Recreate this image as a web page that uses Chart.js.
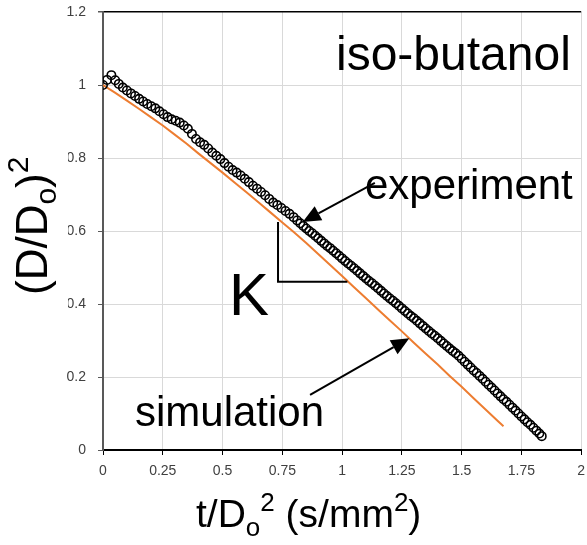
<!DOCTYPE html>
<html>
<head>
<meta charset="utf-8">
<script src="https://cdn.jsdelivr.net/npm/chart.js@4/dist/chart.umd.min.js"></script>
<style>
  html, body { margin: 0; padding: 0; background: #fff; }
  #wrap { width: 587px; height: 545px; }
</style>
</head>
<body>
<div id="wrap"><canvas id="dropChart" width="587" height="545"></canvas></div>
<script>
// experiment: t/Do^2 (s/mm^2) and (D/Do)^2
const expT = [
    0, 0.017, 0.035, 0.051, 0.066, 0.083, 0.100, 0.117, 0.134, 0.151,
    0.168, 0.185, 0.202, 0.219, 0.236, 0.253, 0.270, 0.287, 0.304, 0.321,
    0.338, 0.355, 0.372, 0.389, 0.406, 0.423, 0.440, 0.457, 0.474, 0.491,
    0.508, 0.525, 0.542, 0.559, 0.576, 0.593, 0.610, 0.627, 0.644, 0.661,
    0.678, 0.695, 0.712, 0.729, 0.746, 0.763, 0.780, 0.797, 0.812, 0.825,
    0.8375, 0.85, 0.8625, 0.875, 0.8875, 0.90, 0.9125, 0.925, 0.9375, 0.95,
    0.9625, 0.975, 0.9875, 1.00, 1.0125, 1.025, 1.0375, 1.05, 1.0625, 1.075,
    1.0875, 1.10, 1.1125, 1.125, 1.1375, 1.15, 1.1625, 1.175, 1.1875, 1.20,
    1.2125, 1.225, 1.2375, 1.25, 1.2625, 1.275, 1.2875, 1.30, 1.3125, 1.325,
    1.3375, 1.35, 1.3625, 1.375, 1.3875, 1.40, 1.4125, 1.425, 1.4375, 1.45,
    1.4625, 1.475, 1.4875, 1.50, 1.5125, 1.525, 1.5375, 1.55, 1.5625, 1.575,
    1.5875, 1.60, 1.6125, 1.625, 1.6375, 1.65, 1.6625, 1.675, 1.6875, 1.70,
    1.7125, 1.725, 1.7375, 1.75, 1.7625, 1.775, 1.7875, 1.80, 1.8125, 1.825,
    1.835
];
const expD2 = [
    1.000, 1.014, 1.027, 1.013, 1.003, 0.993, 0.985, 0.977, 0.970, 0.962,
    0.955, 0.948, 0.942, 0.936, 0.928, 0.920, 0.912, 0.906, 0.902, 0.897,
    0.889, 0.880, 0.866, 0.852, 0.843, 0.836, 0.826, 0.815, 0.806, 0.797,
    0.786, 0.776, 0.767, 0.760, 0.752, 0.743, 0.734, 0.724, 0.716, 0.707,
    0.698, 0.688, 0.678, 0.671, 0.663, 0.655, 0.647, 0.638, 0.629, 0.621,
    0.614, 0.607, 0.600, 0.594, 0.587, 0.580, 0.573, 0.566, 0.559, 0.553,
    0.546, 0.539, 0.532, 0.525, 0.518, 0.511, 0.505, 0.498, 0.491, 0.484,
    0.477, 0.470, 0.463, 0.457, 0.450, 0.443, 0.436, 0.429, 0.422, 0.415,
    0.409, 0.402, 0.395, 0.388, 0.381, 0.374, 0.367, 0.361, 0.354, 0.347,
    0.340, 0.333, 0.326, 0.319, 0.313, 0.306, 0.299, 0.292, 0.285, 0.278,
    0.271, 0.265, 0.258, 0.250, 0.242, 0.234, 0.226, 0.218, 0.211, 0.203,
    0.195, 0.187, 0.179, 0.171, 0.163, 0.155, 0.147, 0.139, 0.132, 0.124,
    0.116, 0.108, 0.100, 0.092, 0.084, 0.076, 0.069, 0.061, 0.053, 0.045,
    0.038
];

// simulation
const simT = [
    0, 0.05, 0.10, 0.15, 0.20, 0.25, 0.30, 0.35, 0.40, 0.45,
    0.50, 0.55, 0.60, 0.65, 0.70, 0.75, 0.80, 0.85, 0.90, 0.95,
    1.00, 1.05, 1.10, 1.15, 1.20, 1.25, 1.30, 1.35, 1.40, 1.45,
    1.50, 1.55, 1.60, 1.65, 1.675
];
const simD2 = [
    1.000, 0.979, 0.957, 0.935, 0.912, 0.889, 0.864, 0.839, 0.812, 0.786,
    0.760, 0.733, 0.706, 0.679, 0.651, 0.623, 0.596, 0.567, 0.537, 0.507,
    0.477, 0.446, 0.416, 0.385, 0.355, 0.325, 0.294, 0.264, 0.234, 0.203,
    0.173, 0.142, 0.111, 0.080, 0.065
];

const xTickLabels = ['0', '0.25', '0.5', '0.75', '1', '1.25', '1.5', '1.75', '2'];
const yTickLabels = ['0', '0.2', '0.4', '0.6', '0.8', '1', '1.2'];

const FONT = '"Liberation Sans", Arial, sans-serif';

// draws a run of text pieces (normal / sub / sup) one after another
function drawRuns(ctx, runs, x, y) {
    let cx = x;
    runs.forEach(r => {
        ctx.font = r.size + 'px ' + FONT;
        ctx.fillText(r.text, cx, y + (r.dy || 0));
        cx += ctx.measureText(r.text).width;
    });
}

function arrow(ctx, x1, y1, x2, y2) {
    const ang = Math.atan2(y2 - y1, x2 - x1);
    const len = 18, half = 8;
    const bx = x2 - len * Math.cos(ang), by = y2 - len * Math.sin(ang);
    ctx.beginPath();
    ctx.moveTo(x1, y1);
    ctx.lineTo(bx, by);
    ctx.stroke();
    ctx.beginPath();
    ctx.moveTo(x2, y2);
    ctx.lineTo(bx + half * Math.sin(ang), by - half * Math.cos(ang));
    ctx.lineTo(bx - half * Math.sin(ang), by + half * Math.cos(ang));
    ctx.closePath();
    ctx.fill();
}

const annotations = {
    id: 'annotations',
    afterDraw(chart) {
        const ctx = chart.ctx;
        const xs = chart.scales.x, ys = chart.scales.y;
        const px = t => xs.getPixelForValue(t);
        const py = v => ys.getPixelForValue(v);
        ctx.save();

        // y title sits on a white box that hides part of the tick labels
        ctx.fillStyle = '#fff';
        ctx.fillRect(0, 140, 68, 172);
        ctx.fillStyle = '#000';
        ctx.textBaseline = 'alphabetic';
        ctx.save();
        ctx.translate(47, 295);
        ctx.rotate(-Math.PI / 2);
        drawRuns(ctx, [
            { text: '(D/D', size: 44 },
            { text: 'o', size: 30, dy: 9 },
            { text: ')', size: 44 },
            { text: '2', size: 30, dy: -19 }
        ], 0, 0);
        ctx.restore();

        // x title
        drawRuns(ctx, [
            { text: 't/D', size: 39 },
            { text: 'o', size: 26, dy: 9 },
            { text: '2', size: 26, dy: -16 },
            { text: ' (s/mm', size: 39 },
            { text: '2', size: 26, dy: -16 },
            { text: ')', size: 39 }
        ], 196, 527);

        ctx.font = '48px ' + FONT;
        ctx.fillText('iso-butanol', 336, 70);
        ctx.font = '42px ' + FONT;
        ctx.fillText('experiment', 365, 199);
        ctx.fillText('simulation', 135, 426);
        ctx.font = '60px ' + FONT;
        ctx.fillText('K', 229, 315);

        ctx.strokeStyle = '#000';
        ctx.lineWidth = 2;
        // slope bracket
        ctx.beginPath();
        ctx.moveTo(px(0.732), py(0.625));
        ctx.lineTo(px(0.732), py(0.461));
        ctx.lineTo(px(1.022), py(0.461));
        ctx.stroke();

        arrow(ctx, px(1.137), py(0.732), px(0.835), py(0.625));
        arrow(ctx, px(0.866), py(0.151), px(1.281), py(0.306));

        ctx.restore();
    }
};

const ctx = document.getElementById('dropChart').getContext('2d');
new Chart(ctx, {
    type: 'scatter',
    data: {
        datasets: [{
            label: 'experiment',
            data: expT.map((t, i) => ({ x: t, y: expD2[i] })),
            showLine: false,
            pointStyle: 'circle',
            pointRadius: 4.2,
            pointBorderWidth: 1.6,
            pointBorderColor: '#000',
            pointBackgroundColor: 'rgba(0,0,0,0)',
            order: 0
        }, {
            label: 'simulation',
            data: simT.map((t, i) => ({ x: t, y: simD2[i] })),
            showLine: true,
            borderColor: '#ED7D31',
            borderWidth: 2,
            pointRadius: 0,
            order: 1
        }]
    },
    options: {
        responsive: false,
        animation: false,
        devicePixelRatio: 1,
        layout: { padding: { top: 12, right: 2, left: 0, bottom: 0 } },
        plugins: {
            legend: { display: false },
            tooltip: { enabled: false }
        },
        scales: {
            x: {
                type: 'linear',
                min: 0,
                max: 2,
                afterFit(s) { s.height = 95; s.paddingLeft = 0; s.paddingRight = 0; },
                ticks: {
                    stepSize: 0.25,
                    padding: 8,
                    color: '#404040',
                    font: { family: FONT, size: 14 },
                    maxRotation: 0,
                    autoSkip: false,
                    callback: (v, i) => xTickLabels[i]
                },
                grid: { color: '#d9d9d9', tickColor: '#000', tickLength: 5 },
                border: { color: '#000', width: 2 }
            },
            y: {
                min: 0,
                max: 1.2,
                afterFit(s) { s.width = 103; s.paddingTop = 0; s.paddingBottom = 0; },
                ticks: {
                    stepSize: 0.2,
                    padding: 12,
                    color: '#404040',
                    font: { family: FONT, size: 14 },
                    callback: (v, i) => yTickLabels[i]
                },
                grid: {
                    color: c => Math.abs(c.tick.value - 1.2) < 1e-6 ? '#000' : '#d9d9d9',
                    lineWidth: c => Math.abs(c.tick.value - 1.2) < 1e-6 ? 1.5 : 1,
                    tickColor: '#595959',
                    tickLength: 5
                },
                border: { color: '#595959', width: 2 }
            }
        }
    },
    plugins: [annotations]
});
</script>
</body>
</html>
